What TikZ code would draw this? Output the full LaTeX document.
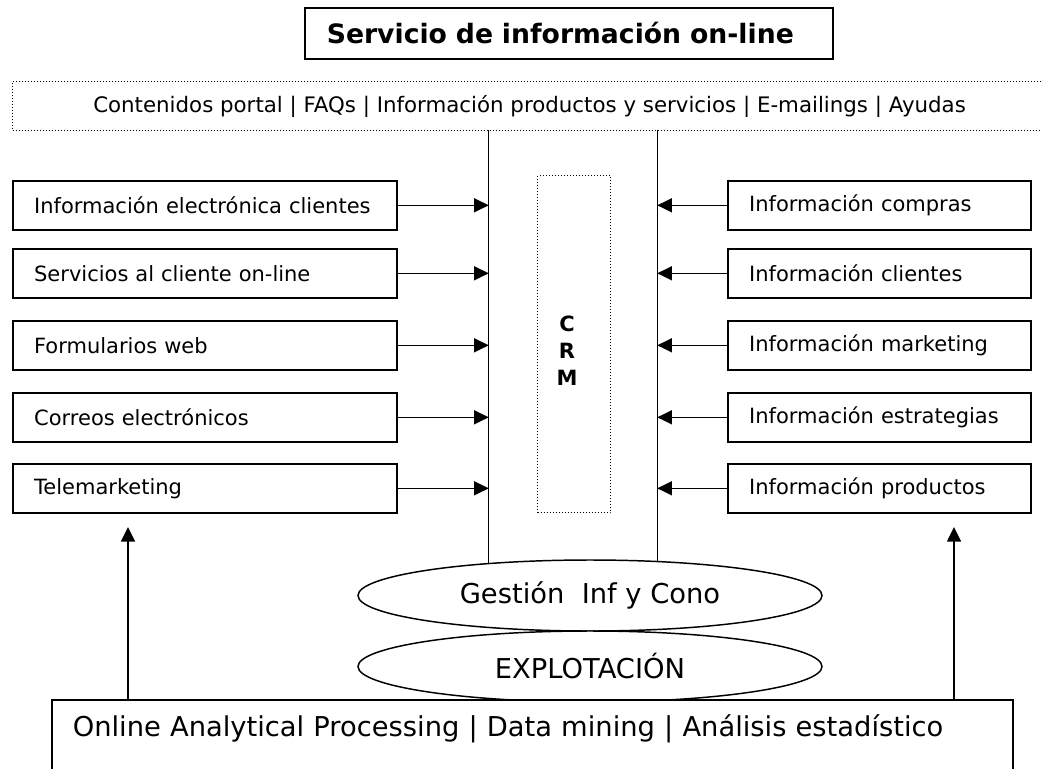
\documentclass[tikz,border=0pt]{standalone}
\usepackage{fontspec}
\setmainfont{DejaVu Sans}
\usetikzlibrary{shapes.geometric}
\usetikzlibrary{arrows.meta}
\usetikzlibrary{positioning}

\begin{document}
\begin{tikzpicture}[x=0.75pt,y=-0.75pt]
				\tikzset{lbox/.style = {shape=rectangle,draw,line width=1.2pt,
						minimum width=288pt, minimum height=36.75pt,
						inner xsep=16pt, text width=256pt, align=left,
						anchor=north west, font=\fontsize{15.75}{18}\selectfont}}
				\tikzset{rbox/.style = {lbox, minimum width=227.25pt, text width=195.25pt}}
				\tikzset{edge/.style = {-{Triangle[length=11pt,width=10.5pt]}, line width=1.2pt}}
				\tikzset{oval/.style = {shape=ellipse,draw,fill=white,line width=1.1pt,
						minimum width=348pt, minimum height=53.25pt, inner sep=0pt,
						font=\fontsize{20.5}{24}\selectfont}}
				\tikzset{dots/.style = {draw, dash pattern=on 0.75pt off 1.5pt, line width=0.75pt}}
				
				\useasboundingbox (0,0) rectangle (1041,768);
				
				% header
				\node[draw, line width=1.2pt, anchor=north west, minimum width=396pt,
				minimum height=38.25pt, inner xsep=16.5pt, text width=363pt, align=left,
				font=\fontsize{20}{24}\selectfont\bfseries] (title) at (304,7)
				{Servicio de información on-line};
				\node[dots, anchor=north west, minimum width=775.5pt, minimum height=36.75pt,
				font=\fontsize{16}{19}\selectfont] (portal) at (12,81)
				{Contenidos portal | FAQs | Información productos y servicios | E-mailings | Ayudas};
				
				% CRM column
				\node[minimum width=126pt, minimum height=348.75pt, inner sep=0pt,
				anchor=north] (crm) at (573,130) {};
				\draw[line width=1pt] (crm.north west) -- (crm.south west)
				(crm.north east) -- (crm.south east);
				\node[dots, anchor=north west, minimum width=54.75pt, minimum height=252.75pt,
				inner sep=0pt] (crmbox) at (537,175) {};
				\node[font=\fontsize{15.75}{20.25}\selectfont\bfseries, align=center]
				(crmtxt) at (567,351) {C\\R\\M};
				
				% vertices
				\node[lbox] (l1) at (12,180) {Información electrónica clientes};
				\node[lbox] (l2) at (12,248) {Servicios al cliente on-line};
				\node[lbox] (l3) at (12,320) {Formularios web};
				\node[lbox] (l4) at (12,392) {Correos electrónicos};
				\node[lbox] (l5) at (12,463) {Telemarketing};
				
				\node[rbox] (r1) at (727,180) {Información compras};
				\node[rbox] (r2) at (727,248) {Información clientes};
				\node[rbox] (r3) at (727,320) {Información marketing};
				\node[rbox] (r4) at (727,392) {Información estrategias};
				\node[rbox] (r5) at (727,463) {Información productos};
				
				\node[oval] (gest) at (590,595.5) {Gestión\ \ Inf y Cono};
				\node[oval] (expl) at (590,666.5) {EXPLOTACIÓN};
				
				\node[draw, fill=white, line width=1.2pt, anchor=north west,
				minimum width=720.75pt, inner xsep=15.75pt, inner ysep=0pt,
				text width=689.25pt, align=left, text height=27.75pt, text depth=60pt,
				font=\fontsize{20.5}{24}\selectfont] (olap) at (51,699)
				{Online Analytical Processing | Data mining | Análisis estadístico};
				
				\coordinate (tipL) at (128,527);
				\coordinate (tipR) at (954,527);
				
				%edges
				\foreach \i in {1,...,5} {
					\draw[edge] (l\i.east) -- (l\i.east -| crm.west);
					\draw[edge] (r\i.west) -- (r\i.west -| crm.east);
				}
				\draw[edge] (olap.north -| tipL) -- (tipL);
				\draw[edge] (olap.north -| tipR) -- (tipR);
				
\end{tikzpicture}
\end{document}
